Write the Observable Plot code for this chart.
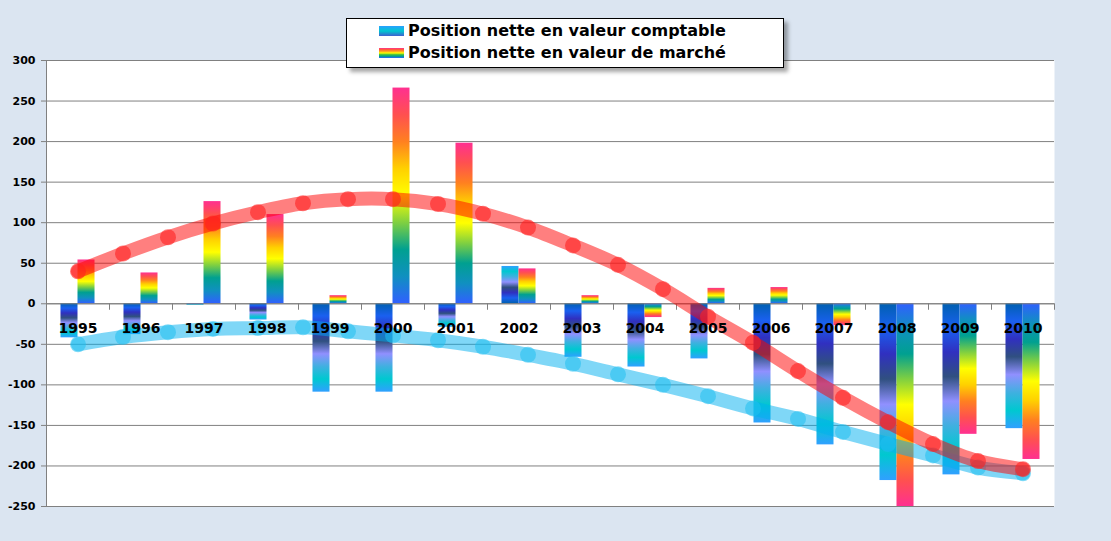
<!DOCTYPE html>
<html><head><meta charset="utf-8">
<script src="https://cdn.jsdelivr.net/npm/d3@7"></script>
<script src="https://cdn.jsdelivr.net/npm/@observablehq/plot@0.6"></script>
<style>
body{margin:0;background:#dbe5f1;font-family:"DejaVu Sans",sans-serif}
#wrap{position:relative;width:1111px;height:541px}
#legend{position:absolute;left:346px;top:18px;width:436px;height:48px;background:#fff;border:1px solid #000;box-shadow:4px 4px 4px rgba(0,0,0,.35);font:bold 16px "DejaVu Sans",sans-serif}
.li{position:absolute;left:32px;display:flex;align-items:center}
.sw{width:25px;height:10px;margin-right:4px}
</style></head><body>
<div id="wrap"><div id="legend">
<div class="li" style="top:2px"><div class="sw" style="background:linear-gradient(#2aa0ff,#00c8d0,#4060d0)"></div>Position nette en valeur comptable</div>
<div class="li" style="top:24px"><div class="sw" style="background:linear-gradient(#ff3090,#ff6030,#ffa020,#ffff00,#40c040,#00a090,#3060ff)"></div>Position nette en valeur de marché</div>
</div></div>
<script>
const years = [1995,1996,1997,1998,1999,2000,2001,2002,2003,2004,2005,2006,2007,2008,2009,2010];
const comptable = [-42,-38,-2,-20,-109,-109,-29,46,-66,-78,-68,-147,-174,-218,-211,-154];
const marche = [54,38,126,110,10,266,198,43,10,-17,19,20,-27,-250,-161,-192];
const trendMarche = [40,62,82,99,113,124,129,129,123,111,94,72,48,18,-16,-48,-83,-116,-146,-173,-194,-204];
const trendComptable = [-50,-41,-35,-31,-30,-29,-34,-39,-45,-53,-63,-74,-87,-100,-114,-129,-142,-158,-173,-187,-202,-209];
const yTicks = [300,250,200,150,100,50,0,-50,-100,-150,-200,-250];

const bars = years.flatMap((y,i)=>[
  {x1:y-0.27,x2:y,v:comptable[i],fill:comptable[i]<0?"url(#cNeg)":"url(#cPos)"},
  {x1:y,x2:y+0.27,v:marche[i],fill:marche[i]<0?"url(#mNeg)":"url(#mPos)"}
]);
const tm = trendMarche.map((v,i)=>({x:1995+i*15/21,v}));
const tc = trendComptable.map((v,i)=>({x:1995+i*15/21,v}));
const sep = d3.range(1994.5,2011,1);

const chart = Plot.plot({
  width:1111,height:541,marginTop:60,marginLeft:46,marginRight:57,marginBottom:35,
  style:{background:"transparent",fontFamily:"DejaVu Sans, sans-serif"},
  x:{domain:[1994.5,2010.5],axis:null},
  y:{domain:[-250,300],axis:null},
  marks:[
    Plot.frame({fill:"white",stroke:null}),
    Plot.ruleY(yTicks,{stroke:"#808080",strokeWidth:1}),
    Plot.axisY({ticks:yTicks,tickFormat:d=>String(d),label:null,fontWeight:"bold",fontSize:11,tickSize:5,stroke:"#808080",fill:"black",tickPadding:6}),
    Plot.ruleX([1994.5],{stroke:"#808080"}),
    Plot.ruleX(sep,{x:d=>d,y1:0,y2:-8,stroke:"#808080"}),
    Plot.rectY(bars,{x1:"x1",x2:"x2",y1:0,y2:"v",fill:"fill",inset:0}),
    Plot.ruleY([0],{stroke:"#808080"}),
    Plot.line(tc,{x:"x",y:"v",stroke:"#00b0f0",strokeWidth:14,strokeOpacity:0.5,curve:"catmull-rom"}),
    Plot.dot(tc,{x:"x",y:"v",r:8,fill:"#20c0f0",fillOpacity:0.55}),
    Plot.line(tm,{x:"x",y:"v",stroke:"#ff0000",strokeWidth:14,strokeOpacity:0.5,curve:"catmull-rom"}),
    Plot.dot(tm,{x:"x",y:"v",r:8,fill:"#ff2020",fillOpacity:0.6}),
    Plot.text(years,{x:d=>d,y:-30,text:d=>String(d),fontWeight:"bold",fontSize:14,fill:"black"})
  ]
});
const svgNS="http://www.w3.org/2000/svg";
const defs=document.createElementNS(svgNS,"defs");
function grad(id,stops){
  const g=document.createElementNS(svgNS,"linearGradient");
  g.setAttribute("id",id);g.setAttribute("x1","0");g.setAttribute("y1","0");g.setAttribute("x2","0");g.setAttribute("y2","1");
  stops.forEach((c,i)=>{const s=document.createElementNS(svgNS,"stop");s.setAttribute("offset",i/(stops.length-1));s.setAttribute("stop-color",c);g.appendChild(s);});
  defs.appendChild(g);
}
const mStops=["#ff3090","#ff5050","#ff8020","#ffd000","#ffff00","#80d040","#00a090","#1090c0","#3060ff"];
const cStops=["#0060b0","#1a60f0","#3030c0","#305080","#9090ff","#40b0e0","#00c8d0","#30a0ff"];
grad("mPos",mStops);grad("mNeg",[...mStops].reverse());
grad("cNeg",cStops);grad("cPos",[...cStops].reverse());
chart.insertBefore(defs,chart.firstChild);
document.getElementById("wrap").prepend(chart);
chart.style.position="absolute";chart.style.left="0";chart.style.top="0";
</script></body></html>
